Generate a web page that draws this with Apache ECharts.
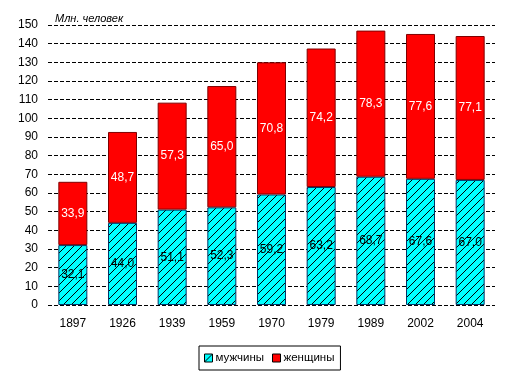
<!DOCTYPE html>
<html><head><meta charset="utf-8">
<script src="https://cdn.jsdelivr.net/npm/echarts@6/dist/echarts.min.js"></script>
<style>html,body{margin:0;padding:0;background:#fff}#c{width:512px;height:384px}</style>
</head><body><div id="c"></div>
<script>
const years = ['1897','1926','1939','1959','1970','1979','1989','2002','2004'];
const men = [32.1, 44.0, 51.1, 52.3, 59.2, 63.2, 68.7, 67.6, 67.0];
const women = [33.9, 48.7, 57.3, 65.0, 70.8, 74.2, 78.3, 77.6, 77.1];

function hatch() {
  const c = document.createElement('canvas');
  c.width = 8; c.height = 8;
  const g = c.getContext('2d');
  g.fillStyle = '#00FFFF'; g.fillRect(0,0,8,8);
  g.strokeStyle = '#000'; g.lineWidth = 1;
  g.beginPath();
  g.moveTo(0,8); g.lineTo(8,0);
  g.moveTo(-1,1); g.lineTo(1,-1);
  g.moveTo(7,9); g.lineTo(9,7);
  g.stroke();
  return c;
}
const fmt = p => p.value.toFixed(1).replace('.', ',');
const font = 'Liberation Sans, Arial, sans-serif';
const chart = echarts.init(document.getElementById('c'), null, {renderer:'canvas'});
chart.setOption({
  animation: false,
  textStyle: {fontFamily: font},
  title: {text: 'Млн. человек', left: 50, top: 8,
    textStyle: {fontSize: 11, fontStyle: 'italic', fontWeight: 'normal', color: '#000', fontFamily: font}},
  grid: {left: 48, right: 17, top: 25, bottom: 79},
  legend: {top: 346, left: 199, borderColor: '#000', borderWidth: 1, borderRadius: 0, padding: [6, 6, 6, 5],
    itemWidth: 8, itemHeight: 8, itemGap: 8, icon: 'rect',
    itemStyle: {borderColor: '#000', borderWidth: 1},
    textStyle: {fontSize: 11.5, color: '#000', fontFamily: font, padding: [0, 0, 0, -2]},
    data: ['мужчины', 'женщины']},
  xAxis: {type: 'category', data: years,
    axisLine: {show: false}, axisTick: {show: false},
    axisLabel: {color: '#000', fontSize: 12, margin: 13, fontFamily: font}},
  yAxis: {type: 'value', min: 0, max: 150, interval: 10,
    axisLine: {show: false}, axisTick: {show: false},
    axisLabel: {color: '#000', fontSize: 12, margin: 10, fontFamily: font},
    splitLine: {lineStyle: {color: '#000', type: [4, 2], width: 1}}},
  series: [
    {name: 'мужчины', type: 'bar', stack: 's', data: men, barWidth: 29,
      itemStyle: {color: {image: hatch(), repeat: 'repeat'}, borderColor: '#003366', borderWidth: 1},
      label: {show: true, position: 'inside', color: '#000', fontSize: 12, formatter: fmt, fontFamily: font}},
    {name: 'женщины', type: 'bar', stack: 's', data: women, barWidth: 29,
      itemStyle: {color: '#FF0000', borderColor: '#800000', borderWidth: 1},
      label: {show: true, position: 'inside', color: '#fff', fontSize: 12, formatter: fmt, fontFamily: font}}
  ]
});
</script></body></html>
